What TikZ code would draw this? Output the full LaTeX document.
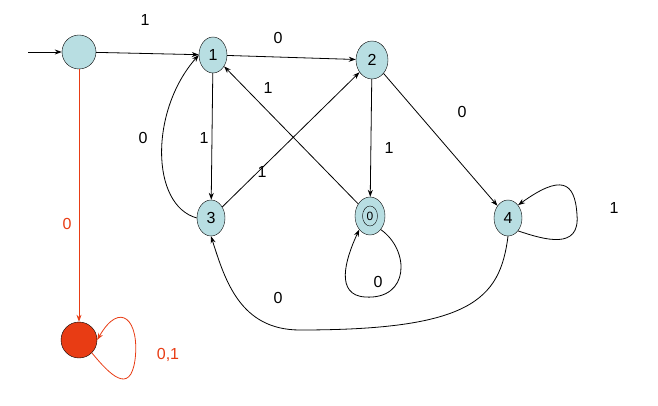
\documentclass[tikz,border=0pt]{standalone}
\usepackage{fontspec}
\setmainfont{Liberation Sans}
\usetikzlibrary{arrows.meta,shapes.geometric}
\definecolor{nodefill}{RGB}{184,222,226}
\definecolor{redc}{RGB}{232,60,20}
\tikzset{
 st/.style={ellipse,draw,fill=nodefill,minimum width=28pt,minimum height=36pt,inner sep=0pt,font=\fontsize{16}{18}\selectfont},
 ed/.style={-{Stealth[length=7pt,width=5pt]},line width=0.8pt},
 lb/.style={font=\fontsize{16}{18}\selectfont},
}
\begin{document}
\begin{tikzpicture}[x=1pt,y=-1pt]
\useasboundingbox (0,0) rectangle (658,406);
\node[st,minimum width=34pt,minimum height=34pt] (s) at (79,52) {};
\node[st] (n1) at (213,55) {1};
\node[st,minimum width=32pt,minimum height=38pt] (n2) at (372,60) {2};
\node[st] (n3) at (211,218) {3};
\node[st,minimum width=30pt,minimum height=38pt] (n0) at (370,216) {};
\node[ellipse,draw,minimum width=15pt,minimum height=20pt,inner sep=0pt,font=\fontsize{12}{13}\selectfont] (n0i) at (370,216) {0};
\node[st] (n4) at (508,218) {4};
\node[circle,draw,fill=redc,minimum size=36pt] (r) at (79,340) {};
\coordinate (in) at (28,52);
\draw[ed] (in) -- (s);
\draw[ed] (s) -- (n1);
\node[lb] (l1) at (145,20) {1};
\draw[ed] (n1) -- (n2);
\node[lb] (l2) at (278,38) {0};
\draw[ed] (n2) -- (n4);
\node[lb] (l3) at (462,112) {0};
\draw[ed] (n1) -- (n3);
\node[lb] (l4) at (204,138) {1};
\draw[ed] (n3.west) .. controls (150,205) and (150,110) .. (n1.west);
\node[lb] (l5) at (143,138) {0};
\draw[ed] (n3) -- (n2);
\node[lb] (l6) at (262,172) {1};
\draw[ed] (n0) -- (n1);
\node[lb] (l7) at (268,88) {1};
\draw[ed] (n2) -- (n0);
\node[lb] (l8) at (389,148) {1};
\draw[ed] (n0.south east) .. controls (410,250) and (410,300) .. (365,297) .. controls (335,295) and (345,260) .. (n0.south west);
\node[lb] (l9) at (378,282) {0};
\draw[ed] (n4.south east) .. controls (545,240) and (580,250) .. (577,215) .. controls (575,180) and (560,175) .. (n4.north east);
\node[lb] (l10) at (614,208) {1};
\draw[ed] (n4.south) .. controls (500,300) and (470,330) .. (300,330) .. controls (240,330) and (225,280) .. (n3.south);
\node[lb] (l11) at (278,298) {0};
\draw[ed,redc] (s) -- (r);
\node[lb,text=redc] (l12) at (67,224) {0};
\draw[ed,redc] (r.south east) .. controls (110,375) and (130,395) .. (135,360) .. controls (140,320) and (120,300) .. (r.east);
\node[lb,text=redc] (l13) at (168,355) {0,1};
\end{tikzpicture}
\end{document}
